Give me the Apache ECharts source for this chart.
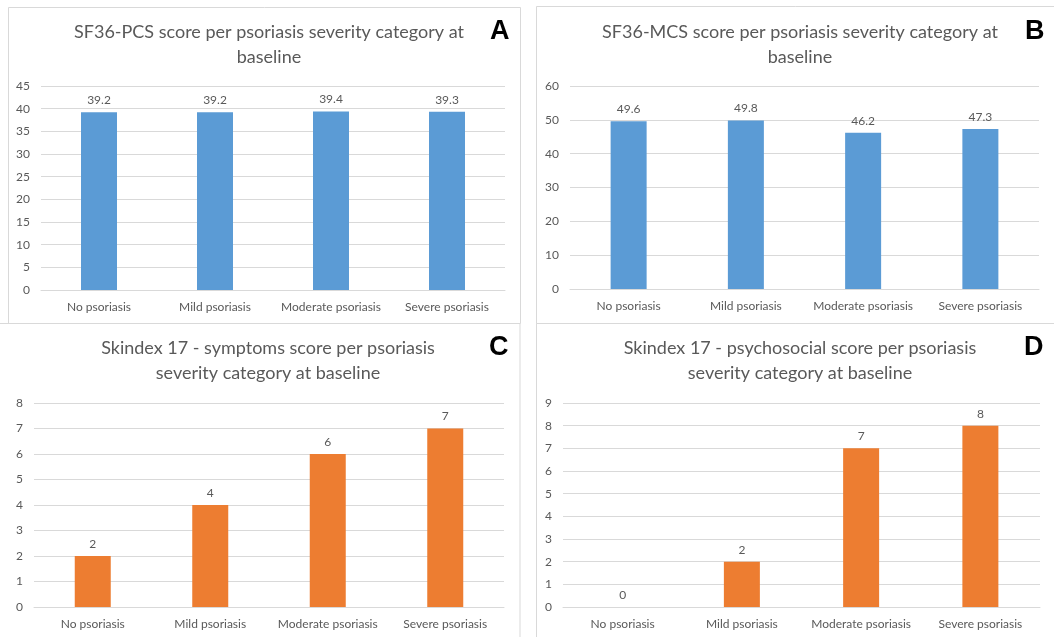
<!DOCTYPE html>
<html><head><meta charset="utf-8">
<script src="https://cdn.jsdelivr.net/npm/echarts@6/dist/echarts.min.js"></script>
<style>html,body{margin:0;padding:0;background:#fff}#c{width:1054px;height:637px}</style>
</head><body><div id="c"></div>
<script>
const categories = ['No psoriasis','Mild psoriasis','Moderate psoriasis','Severe psoriasis'];
const pcsValues = [39.2, 39.2, 39.4, 39.3];
const mcsValues = [49.6, 49.8, 46.2, 47.3];
const symptomsValues = [2, 4, 6, 7];
const psychoValues = [0, 2, 7, 8];
const titles = [
  'SF36-PCS score per psoriasis severity category at\nbaseline',
  'SF36-MCS score per psoriasis severity category at\nbaseline',
  'Skindex 17 - symptoms score per psoriasis\nseverity category at baseline',
  'Skindex 17 - psychosocial score per psoriasis\nseverity category at baseline'
];
const panelLetters = ['A','B','C','D'];
const yMax = [45, 60, 8, 9];
const yInterval = [5, 10, 1, 1];

const FONT = 'Lato';
const TXT = '#595959';
const grids = [
  {left: 41, top: 86, width: 464, height: 204},
  {left: 570, top: 86, width: 469, height: 203},
  {left: 34, top: 403, width: 470, height: 204},
  {left: 563, top: 403, width: 477, height: 204}
];
const titlePos = [
  {x: 264, y: 15}, {x: 795, y: 15}, {x: 263, y: 331}, {x: 795, y: 331}
];
const letterPos = [
  {x: 490, y: 18}, {x: 1025, y: 18}, {x: 489, y: 334}, {x: 1024, y: 334}
];
const allData = [pcsValues, mcsValues, symptomsValues, psychoValues];
const colors = ['#5b9bd5','#5b9bd5','#ed7d31','#ed7d31'];
const decimals = [1,1,0,0];

const option = {
  backgroundColor: '#fff',
  animation: false,
  title: titles.map((t,i)=>({
    text: t, left: titlePos[i].x, top: titlePos[i].y, textAlign: 'center',
    textStyle: {fontFamily: FONT, fontSize: 18, fontWeight: 'normal', color: TXT, lineHeight: 25}
  })),
  graphic: [
    {type:'rect', shape:{x:8.5,y:7.5,width:512,height:316}, style:{fill:'none',stroke:'#d9d9d9',lineWidth:1}, silent:true},
    {type:'rect', shape:{x:536.5,y:6.5,width:530,height:317}, style:{fill:'none',stroke:'#d9d9d9',lineWidth:1}, silent:true},
    {type:'rect', shape:{x:-5,y:323.5,width:525,height:330}, style:{fill:'none',stroke:'#d9d9d9',lineWidth:1}, silent:true},
    {type:'rect', shape:{x:536.5,y:323.5,width:530,height:330}, style:{fill:'none',stroke:'#d9d9d9',lineWidth:1}, silent:true}
  ].concat(panelLetters.map((l,i)=>({
    type:'text', left: letterPos[i].x, top: letterPos[i].y,
    style:{text:l, fontFamily:'Liberation Sans', fontSize:27, fontWeight:'bold', fill:'#000'}
  }))),
  grid: grids,
  xAxis: grids.map((g,i)=>({
    type:'category', gridIndex:i, data: categories,
    axisLine:{lineStyle:{color:'#d9d9d9'}}, axisTick:{show:false},
    axisLabel:{color:TXT, fontFamily:FONT, fontSize:12, margin:11, interval:0}
  })),
  yAxis: grids.map((g,i)=>({
    type:'value', gridIndex:i, min:0, max:yMax[i], interval:yInterval[i],
    axisLine:{show:false}, axisTick:{show:false},
    splitLine:{lineStyle:{color:'#d9d9d9'}},
    axisLabel:{color:TXT, fontFamily:FONT, fontSize:12, margin:11}
  })),
  series: allData.map((d,i)=>({
    type:'bar', xAxisIndex:i, yAxisIndex:i, data:d, barWidth:36,
    itemStyle:{color:colors[i]},
    label:{show:true, position:'top', distance:6, color:TXT, fontFamily:FONT, fontSize:12,
      formatter: p => p.value.toFixed(decimals[i])}
  }))
};
echarts.init(document.getElementById('c')).setOption(option);
</script></body></html>
